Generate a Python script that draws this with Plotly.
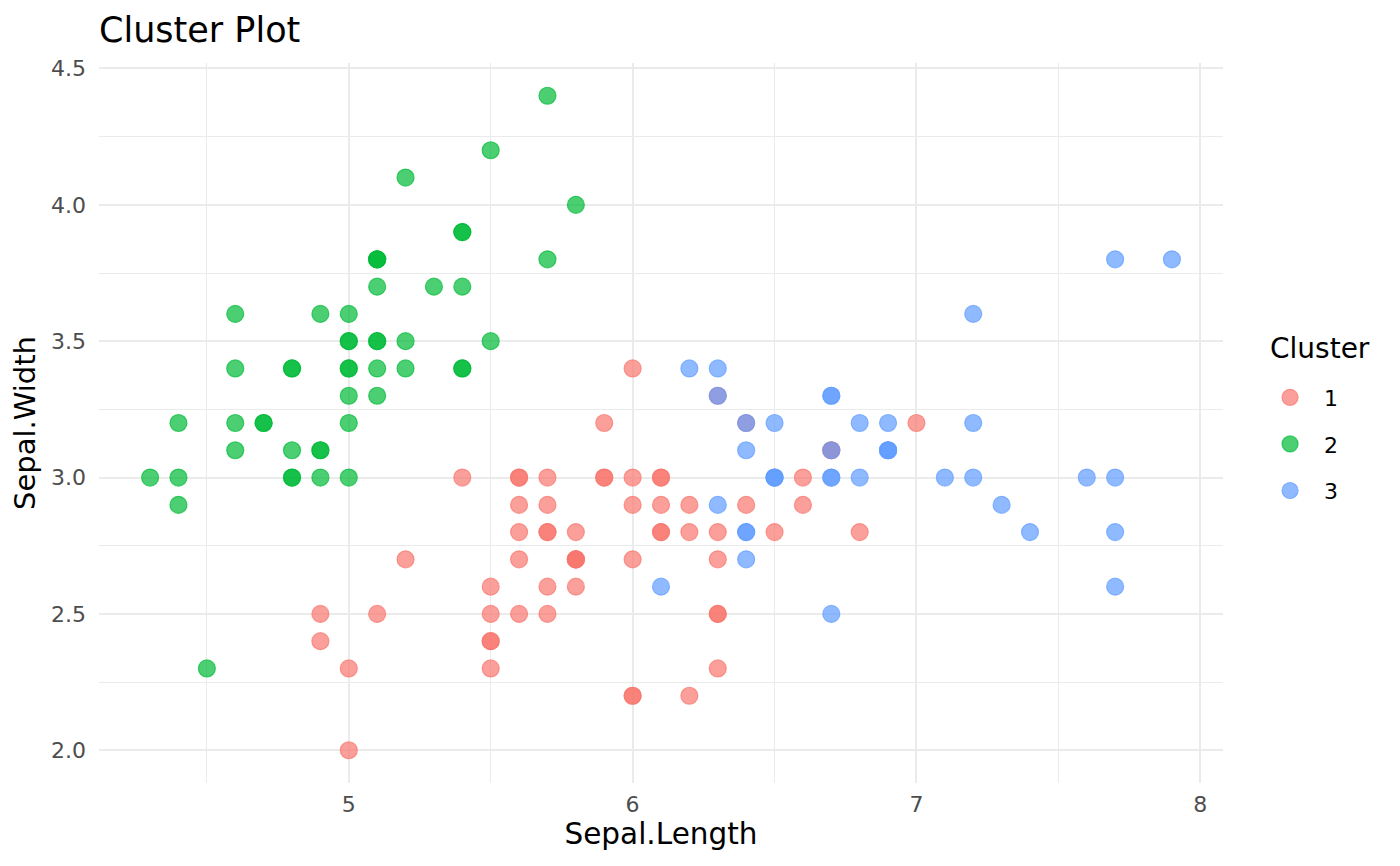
import plotly.graph_objects as go

# k-means clusters on iris, sepal measurements
c1_len = [7.0, 6.4, 5.5, 6.5, 5.7, 6.3, 4.9, 6.6, 5.2, 5.0, 5.9, 6.0, 6.1, 5.6, 6.7, 5.6,
          5.8, 6.2, 5.6, 5.9, 6.1, 6.3, 6.1, 6.4, 6.6, 6.8, 6.0, 5.7, 5.5, 5.5, 5.8, 6.0,
          5.4, 6.0, 6.7, 6.3, 5.6, 5.5, 5.5, 6.1, 5.8, 5.0, 5.6, 5.7, 5.7, 6.2, 5.1, 5.7,
          5.8, 4.9, 5.7, 5.8, 6.0, 5.6, 6.3, 6.2, 6.1, 6.3, 6.0, 5.8, 6.3, 5.9]
c1_wid = [3.2, 3.2, 2.3, 2.8, 2.8, 3.3, 2.4, 2.9, 2.7, 2.0, 3.0, 2.2, 2.9, 2.9, 3.1, 3.0,
          2.7, 2.2, 2.5, 3.2, 2.8, 2.5, 2.8, 2.9, 3.0, 2.8, 2.9, 2.6, 2.4, 2.4, 2.7, 2.7,
          3.0, 3.4, 3.1, 2.3, 3.0, 2.5, 2.6, 3.0, 2.6, 2.3, 2.7, 3.0, 2.9, 2.9, 2.5, 2.8,
          2.7, 2.5, 2.5, 2.8, 2.2, 2.8, 2.7, 2.8, 3.0, 2.8, 3.0, 2.7, 2.5, 3.0]

c2_len = [5.1, 4.9, 4.7, 4.6, 5.0, 5.4, 4.6, 5.0, 4.4, 4.9, 5.4, 4.8, 4.8, 4.3, 5.8, 5.7,
          5.4, 5.1, 5.7, 5.1, 5.4, 5.1, 4.6, 5.1, 4.8, 5.0, 5.0, 5.2, 5.2, 4.7, 4.8, 5.4,
          5.2, 5.5, 4.9, 5.0, 5.5, 4.9, 4.4, 5.1, 5.0, 4.5, 4.4, 5.0, 5.1, 4.8, 5.1, 4.6,
          5.3, 5.0]
c2_wid = [3.5, 3.0, 3.2, 3.1, 3.6, 3.9, 3.4, 3.4, 2.9, 3.1, 3.7, 3.4, 3.0, 3.0, 4.0, 4.4,
          3.9, 3.5, 3.8, 3.8, 3.4, 3.7, 3.6, 3.3, 3.4, 3.0, 3.4, 3.5, 3.4, 3.2, 3.1, 3.4,
          4.1, 4.2, 3.1, 3.2, 3.5, 3.6, 3.0, 3.4, 3.5, 2.3, 3.2, 3.5, 3.8, 3.0, 3.8, 3.2,
          3.7, 3.3]

c3_len = [6.9, 6.7, 6.3, 7.1, 6.3, 6.5, 7.6, 7.3, 6.7, 7.2, 6.5, 6.4, 6.8, 6.4, 6.5, 7.7,
          7.7, 6.9, 7.7, 6.7, 7.2, 6.4, 7.2, 7.4, 7.9, 6.4, 6.1, 7.7, 6.3, 6.4, 6.9, 6.7,
          6.9, 6.8, 6.7, 6.7, 6.5, 6.2]
c3_wid = [3.1, 3.0, 3.3, 3.0, 2.9, 3.0, 3.0, 2.9, 2.5, 3.6, 3.2, 2.7, 3.0, 3.2, 3.0, 3.8,
          2.6, 3.2, 2.8, 3.3, 3.2, 2.8, 3.0, 2.8, 3.8, 2.8, 2.6, 3.0, 3.4, 3.1, 3.1, 3.1,
          3.1, 3.2, 3.3, 3.0, 3.0, 3.4]

clusters = ["1", "2", "3"]
colors = ["rgba(248,118,109,0.7)", "rgba(0,186,56,0.7)", "rgba(97,156,255,0.7)"]

fig = go.Figure()
for name, xs, ys, col in zip(clusters, [c1_len, c2_len, c3_len],
                             [c1_wid, c2_wid, c3_wid], colors):
    fig.add_trace(go.Scatter(
        x=xs, y=ys, mode="markers", name=name, legendgroup=name,
        marker=dict(size=17, color=col, line=dict(width=1.2, color=col)),
    ))

# page body has an 8px margin, so the figure is a bit smaller than the window
grid = "#EBEBEB"
fig.update_layout(
    width=1384, height=850,
    margin=dict(l=91, r=169, t=55, b=75),
    plot_bgcolor="white", paper_bgcolor="white",
    font=dict(family="DejaVu Sans", color="black"),
    title=dict(text="Cluster Plot", x=0, xref="paper", xanchor="left",
               y=1 - 22 / 850, yref="container", yanchor="middle",
               font=dict(size=35, color="black")),
    legend=dict(font=dict(size=22), x=1.0294, xanchor="left",
                y=0.4708, yanchor="middle", tracegroupgap=15,
                itemsizing="trace", itemwidth=58),
    annotations=[dict(text="Cluster", x=1.040, y=0.604, xref="paper", yref="paper",
                      xanchor="left", yanchor="middle", showarrow=False,
                      font=dict(size=28))],
    xaxis=dict(
        title=dict(text="Sepal.Length", font=dict(size=29.5), standoff=6),
        range=[4.12, 8.08], tick0=0, dtick=1, showline=False, zeroline=False,
        gridcolor=grid, gridwidth=2, ticks="", ticklabelstandoff=6,
        tickfont=dict(size=22, color="#4D4D4D"),
        minor=dict(tick0=4.5, dtick=1, showgrid=True, gridcolor=grid, gridwidth=1),
    ),
    yaxis=dict(
        title=dict(text="Sepal.Width", font=dict(size=29), standoff=12),
        range=[1.88, 4.52], tick0=0, dtick=0.5, tickformat=".1f",
        showline=False, zeroline=False,
        gridcolor=grid, gridwidth=2, ticks="", ticklabelstandoff=12,
        tickfont=dict(size=22, color="#4D4D4D"),
        minor=dict(tick0=2.25, dtick=0.5, showgrid=True, gridcolor=grid, gridwidth=1),
    ),
)

fig.write_html("out.html")
